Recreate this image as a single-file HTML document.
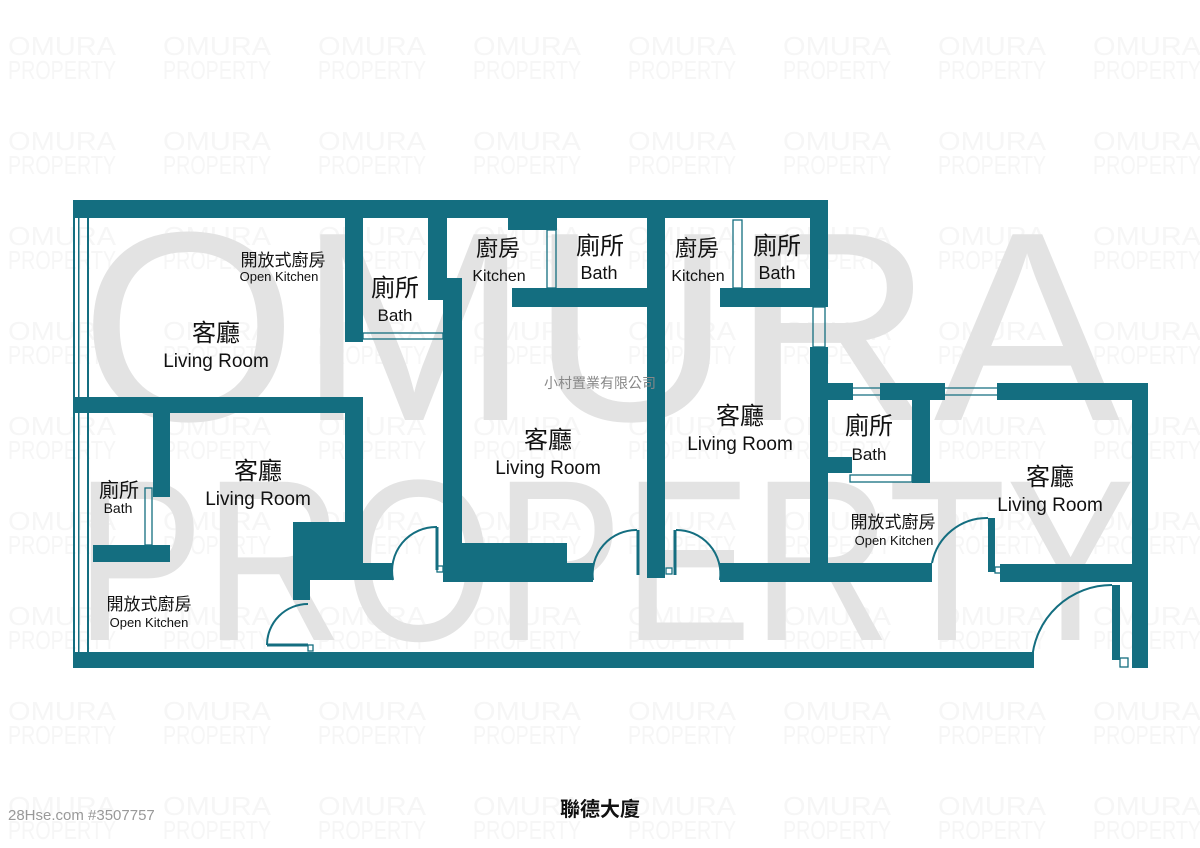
<!DOCTYPE html>
<html><head><meta charset="utf-8"><style>
html,body{margin:0;padding:0;background:#fff;}
svg{display:block;}
.wm{font-family:"Liberation Sans",sans-serif;fill:#f6f6f6;font-size:26px;}
.cj{font-family:"Liberation Sans","Noto Sans CJK TC",sans-serif;fill:#111;text-anchor:middle;}
.en{font-family:"Liberation Sans",sans-serif;fill:#111;text-anchor:middle;}
</style></head><body>
<svg width="1200" height="848" viewBox="0 0 1200 848" xmlns="http://www.w3.org/2000/svg">
<defs>
<g id="w"><text x="0" y="0" textLength="108" lengthAdjust="spacingAndGlyphs">OMURA</text><text x="0" y="24" textLength="108" lengthAdjust="spacingAndGlyphs">PROPERTY</text></g>
<g id="row">
<use href="#w" x="8"/><use href="#w" x="163"/><use href="#w" x="318"/><use href="#w" x="473"/><use href="#w" x="628"/><use href="#w" x="783"/><use href="#w" x="938"/><use href="#w" x="1093"/>
</g>
</defs>
<g class="wm">
<use href="#row" y="55"/><use href="#row" y="150"/><use href="#row" y="245"/><use href="#row" y="340"/><use href="#row" y="435"/><use href="#row" y="530"/><use href="#row" y="625"/><use href="#row" y="720"/><use href="#row" y="815"/>
</g>
<text x="600" y="420" text-anchor="middle" font-family="Liberation Sans,sans-serif" font-size="270" fill="#e3e3e3" textLength="1040" lengthAdjust="spacingAndGlyphs">OMURA</text>
<text x="605" y="640" text-anchor="middle" font-family="Liberation Sans,sans-serif" font-size="230" fill="#e3e3e3" textLength="1060" lengthAdjust="spacingAndGlyphs">PROPERTY</text>

<g fill="#146e80">
<rect x="74" y="200" width="754" height="18"/>
<rect x="74" y="652" width="960" height="16"/>
<rect x="73" y="200" width="2" height="468"/>
<rect x="78" y="218" width="1.5" height="434"/>
<rect x="87" y="218" width="2" height="434"/>
<rect x="74" y="397" width="289" height="16"/>
<rect x="345" y="397" width="18" height="183"/>
<rect x="345" y="563" width="48" height="17"/>
<rect x="345" y="218" width="18" height="124"/>
<rect x="428" y="218" width="16" height="82"/>
<rect x="443" y="278" width="19" height="304"/>
<rect x="443" y="218" width="4" height="82"/>
<rect x="153" y="413" width="17" height="84"/>
<rect x="93" y="545" width="77" height="17"/>
<rect x="293" y="522" width="52" height="58"/>
<rect x="293" y="522" width="17" height="78"/>
<rect x="508" y="218" width="49" height="12"/>
<rect x="512" y="288" width="135" height="19"/>
<rect x="445" y="543" width="122" height="39"/>
<rect x="567" y="563" width="26" height="19"/>
<rect x="647" y="218" width="18" height="360"/>
<rect x="720" y="288" width="108" height="19"/>
<rect x="810" y="200" width="18" height="107"/>
<rect x="810" y="347" width="18" height="235"/>
<rect x="720" y="563" width="108" height="19"/>
<rect x="828" y="383" width="25" height="17"/>
<rect x="880" y="383" width="65" height="17"/>
<rect x="997" y="383" width="151" height="17"/>
<rect x="912" y="400" width="18" height="83"/>
<rect x="828" y="457" width="24" height="16"/>
<rect x="1132" y="383" width="16" height="285"/>
<rect x="800" y="563" width="132" height="19"/>
<rect x="1000" y="564" width="133" height="18"/>
<rect x="988" y="518" width="7" height="54"/>
<rect x="1112" y="585" width="8" height="75"/>
</g>
<g fill="none" stroke="#146e80" stroke-width="1.3">
<rect x="547" y="230" width="9" height="58"/>
<rect x="733" y="220" width="9" height="68"/>
<rect x="813" y="307" width="12" height="40"/>
<line x1="853" y1="388" x2="880" y2="388"/><line x1="853" y1="395" x2="880" y2="395"/>
<line x1="945" y1="388" x2="997" y2="388"/><line x1="945" y1="395" x2="997" y2="395"/>
<rect x="850" y="475" width="62" height="7"/>
<rect x="363" y="333" width="80" height="6"/>
<rect x="145" y="488" width="7" height="57"/>
<rect x="437" y="566" width="6" height="6"/>
<rect x="308" y="645" width="5" height="6"/>
<rect x="666" y="568" width="6" height="6"/>
<rect x="995" y="567" width="6" height="6"/>
<rect x="1120" y="658" width="8" height="9"/>
</g>
<g fill="none" stroke="#146e80" stroke-width="2">
<path d="M267 645 A41 41 0 0 1 308 604"/><line x1="267" y1="645" x2="308" y2="645" stroke-width="3"/>
<path d="M393 580 A44 44 0 0 1 437 527"/><line x1="437" y1="527" x2="437" y2="570" stroke-width="3"/>
<path d="M593 580 A44 44 0 0 1 637 530"/><line x1="638" y1="530" x2="638" y2="575" stroke-width="3"/>
<path d="M720 580 A44 44 0 0 0 676 530"/><line x1="675" y1="530" x2="675" y2="575" stroke-width="3"/>
<path d="M932 563 A56 56 0 0 1 988 518"/>
<path d="M1032 660 A80 80 0 0 1 1112 585"/>
</g>
<text class="cj" x="283" y="266" font-size="17">開放式廚房</text>
<text class="en" x="279" y="281" font-size="13">Open Kitchen</text>
<text class="cj" x="216" y="341" font-size="24">客廳</text>
<text class="en" x="216" y="367" font-size="19">Living Room</text>
<text class="cj" x="395" y="296" font-size="24">廁所</text>
<text class="en" x="395" y="321" font-size="17">Bath</text>
<text class="cj" x="498" y="256" font-size="22">廚房</text>
<text class="en" x="499" y="281" font-size="16">Kitchen</text>
<text class="cj" x="600" y="254" font-size="24">廁所</text>
<text class="en" x="599" y="279" font-size="18">Bath</text>
<text class="cj" x="697" y="256" font-size="22">廚房</text>
<text class="en" x="698" y="281" font-size="16">Kitchen</text>
<text class="cj" x="777" y="254" font-size="24">廁所</text>
<text class="en" x="777" y="279" font-size="18">Bath</text>
<text class="cj" x="548" y="448" font-size="24">客廳</text>
<text class="en" x="548" y="474" font-size="19">Living Room</text>
<text class="cj" x="740" y="424" font-size="24">客廳</text>
<text class="en" x="740" y="450" font-size="19">Living Room</text>
<text class="cj" x="869" y="434" font-size="24">廁所</text>
<text class="en" x="869" y="460" font-size="17">Bath</text>
<text class="cj" x="1050" y="485" font-size="24">客廳</text>
<text class="en" x="1050" y="511" font-size="19">Living Room</text>
<text class="cj" x="893" y="528" font-size="17">開放式廚房</text>
<text class="en" x="894" y="545" font-size="13">Open Kitchen</text>
<text class="cj" x="258" y="479" font-size="24">客廳</text>
<text class="en" x="258" y="505" font-size="19">Living Room</text>
<text class="cj" x="119" y="497" font-size="20">廁所</text>
<text class="en" x="118" y="513" font-size="14">Bath</text>
<text class="cj" x="149" y="610" font-size="17">開放式廚房</text>
<text class="en" x="149" y="627" font-size="13">Open Kitchen</text>
<text x="600" y="388" text-anchor="middle" font-family="Liberation Sans,Noto Sans CJK TC,sans-serif" font-size="14" fill="#888">小村置業有限公司</text>
<text x="600" y="816" text-anchor="middle" font-family="Liberation Sans,Noto Sans CJK TC,sans-serif" font-size="20" font-weight="bold" fill="#111">聯德大廈</text>
<text x="8" y="820" font-family="Liberation Sans,sans-serif" font-size="15" fill="#999">28Hse.com #3507757</text>
</svg>
</body></html>
